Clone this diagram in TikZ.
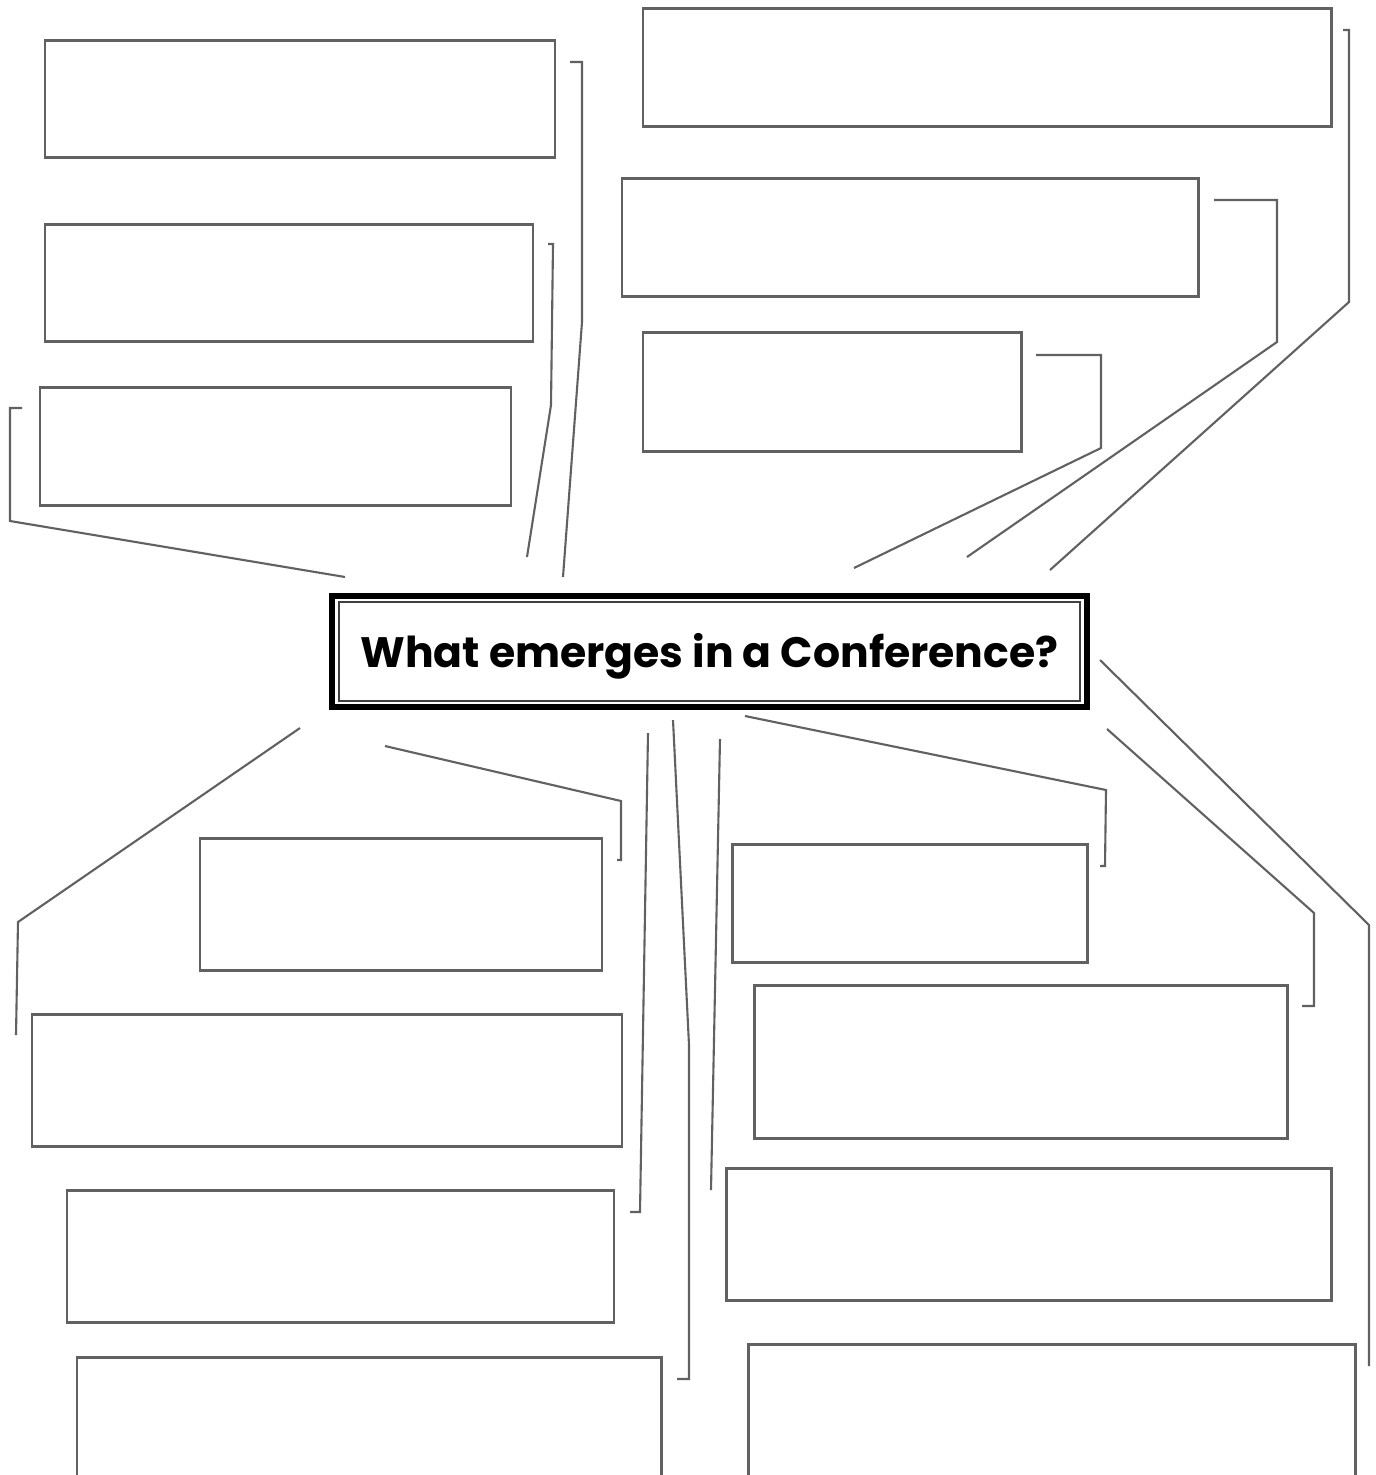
\documentclass[tikz,border=0pt]{standalone}
\usepackage{fontspec}
\setmainfont{Poppins}
\usetikzlibrary{fit}

\begin{document}
\begin{tikzpicture}[x=0.01cm, y=-0.01cm,
	answer/.style={draw=black!62, line width=0.85pt, inner sep=0pt},
	link/.style={draw=black!62, line width=0.6pt, line join=miter},
	question/.style={draw=black, line width=1.6pt, inner sep=0pt}]
	\useasboundingbox (0,0) rectangle (1376,1475);
	% question in the middle
	\node[question, fit={(332,596) (1087,707)}] (q) {};
	\draw[black!75, line width=0.7pt] (339,602) rectangle (1080,701);
	\node at ([yshift=-1.4pt]q.center) (qt) {\bfseries\fontsize{12.1}{14}\selectfont What emerges in a Conference?};
	% boxes above
	\node[answer, fit={(45,40) (555,157)}] (l1) {};
	\node[answer, fit={(45,224) (533,341)}] (l2) {};
	\node[answer, fit={(40,387) (511,505)}] (l3) {};
	\node[answer, fit={(643,8) (1331,126)}] (r1) {};
	\node[answer, fit={(622,178) (1198,296)}] (r2) {};
	\node[answer, fit={(643,332) (1021,451)}] (r3) {};
	% boxes below
	\node[answer, fit={(200,838) (602,970)}] (bl1) {};
	\node[answer, fit={(32,1014) (622,1146)}] (bl2) {};
	\node[answer, fit={(67,1190) (614,1322)}] (bl3) {};
	\node[answer, fit={(77,1357) (661,1485)}] (bl4) {};
	\node[answer, fit={(732,844) (1087,962)}] (br1) {};
	\node[answer, fit={(754,985) (1287,1138)}] (br2) {};
	\node[answer, fit={(726,1168) (1331,1300)}] (br3) {};
	\node[answer, fit={(748,1344) (1355,1485)}] (br4) {};
	% ends of the links
	\coordinate (l1a) at (570,62);    \coordinate (l1b) at (563,577);
	\coordinate (l2a) at (548,244);   \coordinate (l2b) at (527,557);
	\coordinate (l3a) at (22,408);    \coordinate (l3b) at (345,577);
	\coordinate (r1a) at (1343,30);   \coordinate (r1b) at (1050,570);
	\coordinate (r2a) at (1214,200);  \coordinate (r2b) at (967,557);
	\coordinate (r3a) at (1036,355);  \coordinate (r3b) at (854,568);
	\coordinate (bl1a) at (385,746);  \coordinate (bl1b) at (617,860);
	\coordinate (bl2a) at (300,728);  \coordinate (bl2b) at (16,1035);
	\coordinate (bl3a) at (648,733);  \coordinate (bl3b) at (630,1212);
	\coordinate (bl4a) at (673,720);  \coordinate (bl4b) at (677,1379);
	\coordinate (br1a) at (745,716);  \coordinate (br1b) at (1100,866);
	\coordinate (br2a) at (1107,729); \coordinate (br2b) at (1302,1006);
	\coordinate (br3a) at (720,739);  \coordinate (br3b) at (711,1190);
	\coordinate (br4a) at (1100,660); \coordinate (br4b) at (1369,1366);
	% links above
	\draw[link] (l1a) -- (582,62) -- (582,322) -- (l1b);
	\draw[link] (l2a) -- (553,244) -- (551,405) -- (l2b);
	\draw[link] (l3a) -- (10,408) -- (10,521) -- (l3b);
	\draw[link] (r1a) -- (1349,30) -- (1349,302) -- (r1b);
	\draw[link] (r2a) -- (1277,200) -- (1277,342) -- (r2b);
	\draw[link] (r3a) -- (1101,355) -- (1101,448) -- (r3b);
	% links below
	\draw[link] (bl1a) -- (621,801) -- (621,860) -- (bl1b);
	\draw[link] (bl2a) -- (18,922) -- (bl2b);
	\draw[link] (bl3a) -- (640,1212) -- (bl3b);
	\draw[link] (bl4a) -- (689,1045) -- (689,1379) -- (bl4b);
	\draw[link] (br1a) -- (1106,790) -- (1105,866) -- (br1b);
	\draw[link] (br2a) -- (1314,913) -- (1314,1006) -- (br2b);
	\draw[link] (br3a) -- (br3b);
	\draw[link] (br4a) -- (1369,925) -- (br4b);
\end{tikzpicture}
\end{document}
